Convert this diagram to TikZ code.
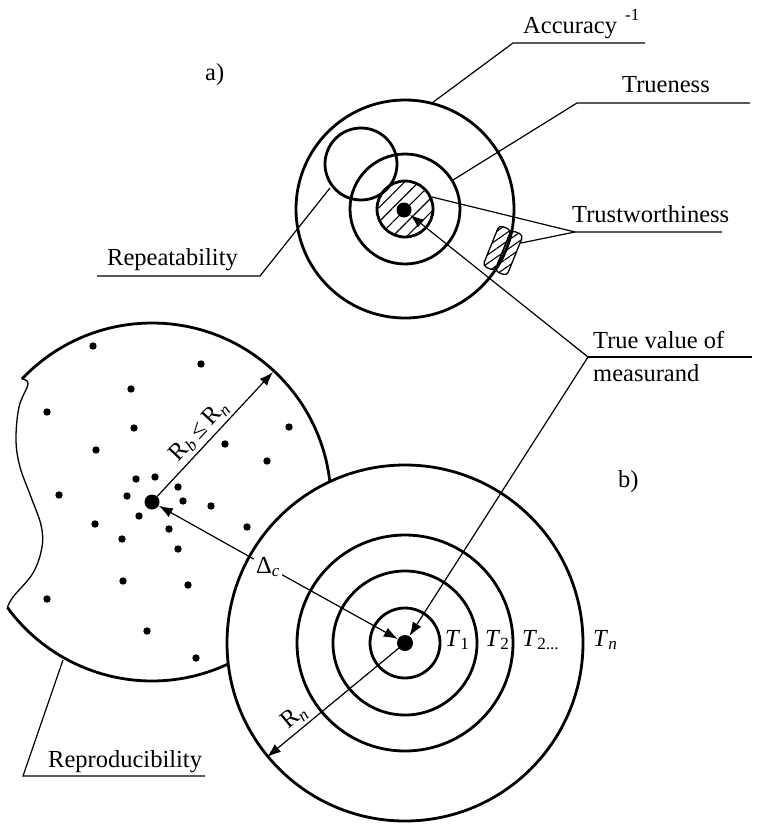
\documentclass[tikz,border=0pt]{standalone}
\usepackage{fontspec}
\setmainfont{Liberation Serif}
\usetikzlibrary{arrows.meta,patterns.meta}
\begin{document}
\begin{tikzpicture}[x=1pt,y=-1pt,
  ring/.style={line width=2.8pt},
  leader/.style={line width=1.2pt},
  thin/.style={line width=1.3pt},
  txt/.style={font=\fontsize{24.5}{29}\selectfont, inner sep=0pt},
  lbl/.style={txt, anchor=base west},
  bigdot/.style={circle, fill=black, inner sep=0pt, minimum size=15pt},
  tip/.style={-{Latex[length=14pt,width=10pt]}},
  hatch/.style={pattern={Lines[angle=45,distance=10pt,line width=1.1pt]}},
  striphatch/.style={pattern={Lines[angle=35,distance=7pt,line width=1.1pt]}},
]
\useasboundingbox (0,0) rectangle (757,827);

% ---------------- a) nested circles ----------------
\coordinate (ca) at (405,209);
\draw[ring] (ca) circle[radius=109];
\draw[ring] (ca) circle[radius=55];
\draw[ring, hatch] (ca) circle[radius=28];
\draw[ring] (361,164) circle[radius=36];
\node[bigdot] (dota) at (404,210) {};

% hatched strips on the outer ring
\begin{scope}[shift={(497,248)}, rotate=-22]
  \draw[thin, striphatch, rounded corners=4pt] (-6.5,-22) rectangle (6.5,22);
\end{scope}
\begin{scope}[shift={(509,253)}, rotate=-22]
  \draw[thin, striphatch, rounded corners=4pt] (-6.5,-22) rectangle (6.5,22);
\end{scope}

\node[lbl] (la) at (205,80) {a)};

% Accuracy
\node[lbl] (acc) at (523,33) {Accuracy};
\node[lbl, font=\fontsize{17}{20}\selectfont] (accsup) at (625,20) {-1};
\coordinate (accP) at (432,103);
\coordinate (accK) at (513,43);
\coordinate (accE) at (645,43);
\draw[leader] (accP) -- (accK) -- (accE);

% Trueness
\node[lbl] (tru) at (622,92) {Trueness};
\coordinate (truP) at (453,180);
\coordinate (truK) at (577,103);
\coordinate (truE) at (750,103);
\draw[leader] (truP) -- (truK) -- (truE);

% Trustworthiness
\node[lbl] (trw) at (572,222) {Trustworthiness};
\coordinate (trwP) at (432,197);
\coordinate (trwQ) at (521,243);
\coordinate (trwK) at (575,232);
\coordinate (trwE) at (722,232);
\draw[leader] (trwP) -- (trwK) -- (trwE);
\draw[leader] (trwQ) -- (trwK);

% Repeatability
\node[lbl] (rep) at (107,265) {Repeatability};
\coordinate (repP) at (330,188);
\coordinate (repK) at (260,276);
\coordinate (repE) at (97,276);
\draw[leader] (repP) -- (repK) -- (repE);

% ---------------- b) spread of results ----------------
\coordinate (cc) at (152,502);
\draw[ring] (cc) ++(-136.6:179) arc[start angle=-136.6, end angle=143.9, radius=179];
\draw[thin] plot[smooth, tension=0.6] coordinates {(7.4,607.5) (13,597) (33,573) (42,547) (41,525) (31,497) (20,467) (16,440) (19,407) (28,384) (22,379)};

\foreach \p in {(93,346),(201,364),(131,389),(47,412),(134,428),(289,427),
  (96,450),(225,444),(267,461),(136,479),(155,477),(178,487),(59,495),
  (127,496),(183,501),(211,506),(139,516),(95,524),(169,529),(247,527),
  (122,539),(178,549),(123,581),(188,585),(47,599),(147,631),(196,658)}
  \fill \p circle[radius=3.7];

\coordinate (cb) at (405,643);
\draw[ring, fill=white] (cb) circle[radius=178];
\draw[ring] (cb) circle[radius=108];
\draw[ring] (cb) circle[radius=72];
\draw[ring] (cb) circle[radius=35];
\node[bigdot, minimum size=16pt] (dotb) at (cb) {};
\node[bigdot] (dotc) at (cc) {};

\node[lbl] (t1) at (445,646) {\textit{T}\textsubscript{1}};
\node[lbl] (t2) at (485,646) {\textit{T}\textsubscript{2}};
\node[lbl] (t3) at (522,646) {\textit{T}\textsubscript{2...}};
\node[lbl] (tn) at (593,646) {\textit{T}\textsubscript{\textit{n}}};
\node[lbl] (lb) at (618,487) {b)};

% R_b <= R_n
\coordinate (rbE) at (273,372);
\draw[leader, tip] (dotc) -- node[txt, sloped, above, pos=0.45, inner sep=3pt] {R\textsubscript{\textit{b}}\hspace{0.2em}≤\hspace{0.2em}R\textsubscript{\textit{n}}} (rbE);

% Delta_c
\node[txt, inner sep=2pt] (dc) at (268,567) {Δ\textsubscript{\textit{c}}};
\draw[leader, tip] (dc) -- (dotc);
\draw[leader, tip] (dc) -- (dotb);

% R_n
\coordinate (rnE) at (267,757);
\draw[leader, tip] (dotb.center) -- node[txt, sloped, above, pos=0.74, inner sep=3pt] {R\textsubscript{\textit{n}}} (rnE);

% Reproducibility
\node[lbl] (repr) at (48,767) {Reproducibility};
\coordinate (reprP) at (63,660);
\coordinate (reprK) at (23,776);
\coordinate (reprE) at (205,776);
\draw[leader] (reprP) -- (reprK) -- (reprE);

% True value of measurand
\node[lbl] (tv1) at (593,348) {True value of};
\node[lbl] (tv2) at (593,381) {measurand};
\coordinate (tvK) at (588,357);
\coordinate (tvE) at (752,357);
\draw[leader] (tvK) -- (tvE);
\draw[leader, tip] (tvK) -- (dota);
\draw[leader, tip] (tvK) -- (dotb);
\end{tikzpicture}
\end{document}
